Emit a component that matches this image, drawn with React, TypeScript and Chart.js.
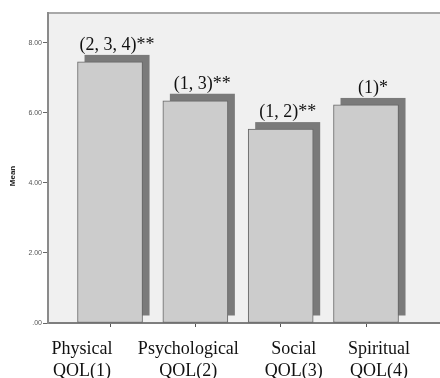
import React, { useEffect, useRef } from "react";
import { Chart, registerables } from "chart.js";

Chart.register(...registerables);

const categoryLines: string[][] = [
  ["Physical", "QOL(1)"],
  ["Psychological", "QOL(2)"],
  ["Social", "QOL(3)"],
  ["Spiritual", "QOL(4)"],
];
const positions = [1, 2, 3, 4];
const means = [7.46, 6.35, 5.54, 6.23];
const annotations = ["(2, 3, 4)**", "(1, 3)**", "(1, 2)**", "(1)*"];
const yTicks = [0, 2, 4, 6, 8];
const yTitle = "Mean";

const LABEL_SHIFT = [-28, -7, 13, 13];
const SHADOW_DX = 7;
const SHADOW_DY = -7;
const SERIF = "'Liberation Serif', 'Times New Roman', serif";
const SANS = "'Liberation Sans', Arial, sans-serif";

const panelPlugin = {
  id: "panel",
  beforeDraw(chart: any) {
    const { ctx, chartArea } = chart;
    ctx.save();
    ctx.fillStyle = "#f0f0f0";
    ctx.fillRect(chartArea.left, chartArea.top, chartArea.right - chartArea.left, chartArea.bottom - chartArea.top);
    ctx.strokeStyle = "#a8a8a8";
    ctx.lineWidth = 2;
    ctx.beginPath();
    ctx.moveTo(chartArea.left - 1, chartArea.top);
    ctx.lineTo(chartArea.right, chartArea.top);
    ctx.stroke();
    ctx.restore();
  },
  beforeDatasetsDraw(chart: any) {
    const { ctx } = chart;
    const meta = chart.getDatasetMeta(0);
    ctx.save();
    ctx.fillStyle = "#7a7a7a";
    meta.data.forEach((bar: any) => {
      const { x, y, base, width } = bar.getProps(["x", "y", "base", "width"], true);
      ctx.fillRect(x - width / 2 + SHADOW_DX, y + SHADOW_DY, width, base - y);
    });
    ctx.restore();
  },
  afterDraw(chart: any) {
    const { ctx, chartArea } = chart;
    const meta = chart.getDatasetMeta(0);
    const xScale = chart.scales.x;
    ctx.save();
    ctx.fillStyle = "#111111";
    ctx.font = `18px ${SERIF}`;
    ctx.textAlign = "center";
    ctx.textBaseline = "alphabetic";
    meta.data.forEach((bar: any, i: number) => {
      const { x, y } = bar.getProps(["x", "y"], true);
      ctx.fillText(annotations[i], x + SHADOW_DX, y - 12);
    });
    categoryLines.forEach((lines, i) => {
      const cx = xScale.getPixelForValue(positions[i]) + LABEL_SHIFT[i];
      lines.forEach((line, j) => {
        ctx.fillText(line, cx, chartArea.bottom + 31 + j * 21.5);
      });
    });
    // y-axis title
    ctx.translate(13, (chartArea.top + chartArea.bottom) / 2 + 8);
    ctx.rotate(-Math.PI / 2);
    ctx.font = `bold 8px ${SANS}`;
    ctx.fillStyle = "#222222";
    ctx.textBaseline = "middle";
    ctx.fillText(yTitle, 0, 0);
    ctx.restore();
  },
};

export default function App() {
  const canvasRef = useRef<HTMLCanvasElement | null>(null);

  useEffect(() => {
    document.body.style.margin = "0";
    const canvas = canvasRef.current;
    if (!canvas) return;
    const chart = new Chart(canvas, {
      type: "bar",
      data: {
        datasets: [
          {
            data: means.map((y, i) => ({ x: positions[i], y })),
            backgroundColor: "#cccccc",
            borderColor: "#666666",
            borderWidth: 1,
            borderSkipped: false,
            barThickness: 65,
          },
        ],
      },
      options: {
        animation: false,
        responsive: false,
        devicePixelRatio: 1,
        layout: { padding: { top: 13, right: 0, left: 0, bottom: 0 } },
        plugins: {
          legend: { display: false },
          tooltip: { enabled: false },
        },
        scales: {
          x: {
            type: "linear",
            offset: false,
            min: 0.273,
            max: 4.867,
            afterBuildTicks: (scale: any) => {
              scale.ticks = positions.map((v) => ({ value: v }));
            },
            afterFit: (scale: any) => {
              scale.height = 55;
            },
            ticks: { display: false },
            grid: { drawOnChartArea: false, offset: false, tickLength: 4, color: "#555555" },
            border: { color: "#7e7e7e", width: 2 },
          },
          y: {
            min: 0,
            max: 8.857,
            afterBuildTicks: (scale: any) => {
              scale.ticks = yTicks.map((v) => ({ value: v }));
            },
            afterFit: (scale: any) => {
              scale.width = 48;
            },
            ticks: {
              padding: 1,
              color: "#555555",
              font: { family: SANS, size: 7 },
              callback: (v: any) => (Number(v) === 0 ? ".00" : Number(v).toFixed(2)),
            },
            grid: { drawOnChartArea: false, tickLength: 5, color: "#666666" },
            border: { color: "#8a8a8a", width: 2 },
          },
        },
      },
      plugins: [panelPlugin],
    });
    return () => chart.destroy();
  }, []);

  return (
    <div style={{ width: 440, height: 378, position: "relative" }}>
      <canvas ref={canvasRef} width={440} height={378} style={{ display: "block" }} />
    </div>
  );
}
